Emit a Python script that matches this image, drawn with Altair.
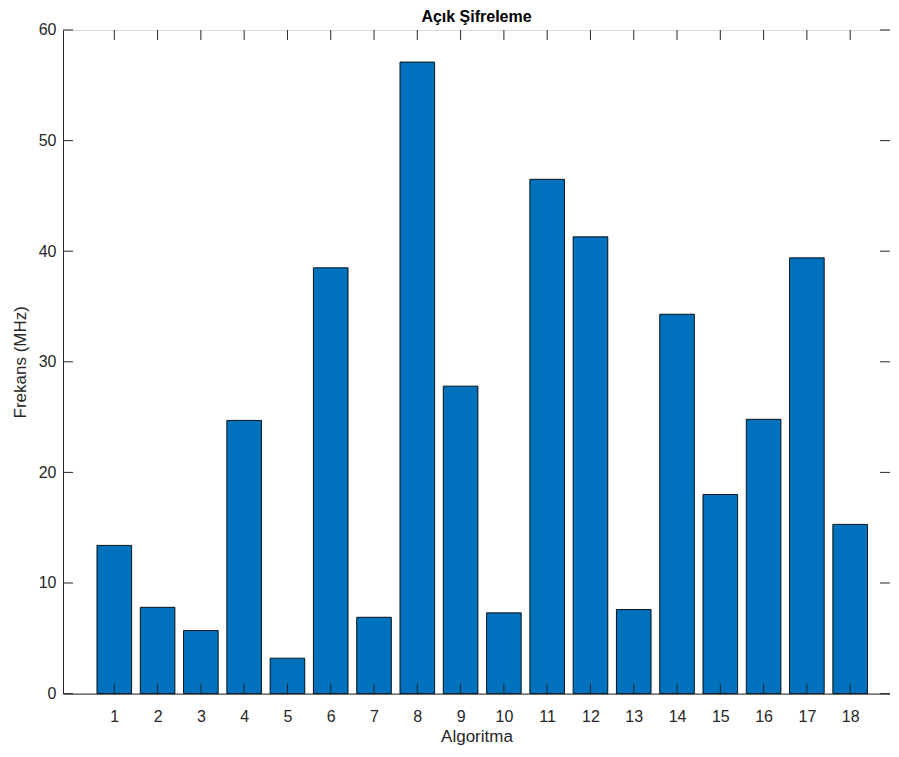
import altair as alt
import pandas as pd

algorithms = list(range(1, 19))
frequencies = [13.4, 7.8, 5.7, 24.7, 3.2, 38.5, 6.9, 57.1, 27.8, 7.3,
               46.5, 41.3, 7.6, 34.3, 18.0, 24.8, 39.4, 15.3]
x_ticks = list(range(1, 19))
y_ticks = [0, 10, 20, 30, 40, 50, 60]

title_text = "Açık Şifreleme"
x_title = "Algoritma"
y_title = "Frekans (MHz)"

W = 827
H = 663.6
FONT = "Liberation Sans"
AXC = "#262626"

bars_df = pd.DataFrame({"alg": algorithms, "freq": frequencies})
xt_df = pd.DataFrame({"t": x_ticks})
yt_df = pd.DataFrame({"t": y_ticks})

xscale = alt.Scale(domain=[-0.185, 18.92], nice=False, zero=False)
yscale = alt.Scale(domain=[0, 60], nice=False)

bars = alt.Chart(bars_df).transform_calculate(
    x0="datum.alg - 0.4", x1="datum.alg + 0.4", base="0"
).mark_bar(color="#0072BD", stroke="#000000", strokeWidth=0.9).encode(
    x=alt.X("x0:Q", scale=xscale,
            axis=alt.Axis(values=x_ticks, title=x_title, ticks=False, grid=False,
                          labelPadding=15, titlePadding=4, domainColor=AXC,
                          labelColor=AXC, titleColor=AXC, labelFontSize=16,
                          titleFontSize=17, labelFont=FONT, titleFont=FONT,
                          titleFontWeight="normal", labelFlush=False)),
    x2="x1:Q",
    y=alt.Y("freq:Q", scale=yscale,
            axis=alt.Axis(values=y_ticks, title=y_title, ticks=False, grid=False,
                          labelPadding=7, titlePadding=9, domainColor=AXC,
                          labelColor=AXC, titleColor=AXC, labelFontSize=16,
                          titleFontSize=17, labelFont=FONT, titleFont=FONT,
                          titleFontWeight="normal", labelFlush=False)),
    y2="base:Q",
)

tick_len = 10
bx = alt.Chart(xt_df).mark_rule(color=AXC, strokeWidth=1).encode(
    x=alt.X("t:Q", scale=xscale), y=alt.value(H), y2=alt.value(H - tick_len))
tx = alt.Chart(xt_df).mark_rule(color=AXC, strokeWidth=1).encode(
    x=alt.X("t:Q", scale=xscale), y=alt.value(0), y2=alt.value(tick_len))
ly = alt.Chart(yt_df).mark_rule(color=AXC, strokeWidth=1).encode(
    y=alt.Y("t:Q", scale=yscale), x=alt.value(0), x2=alt.value(tick_len))
ry = alt.Chart(yt_df).mark_rule(color=AXC, strokeWidth=1).encode(
    y=alt.Y("t:Q", scale=yscale), x=alt.value(W), x2=alt.value(W - tick_len))

chart = alt.layer(bars, bx, tx, ly, ry).properties(
    width=W, height=H,
    title=alt.TitleParams(title_text, font=FONT, fontSize=16, fontWeight="bold",
                          color="#000000", offset=-3),
    padding={"left": 55, "top": 22, "right": 0, "bottom": 53},
    autosize=alt.AutoSizeParams(type="none"),
).configure_view(stroke=AXC, strokeWidth=1).configure(background="white")

chart.save("out.html", embed_options={"renderer": "svg", "actions": False})
